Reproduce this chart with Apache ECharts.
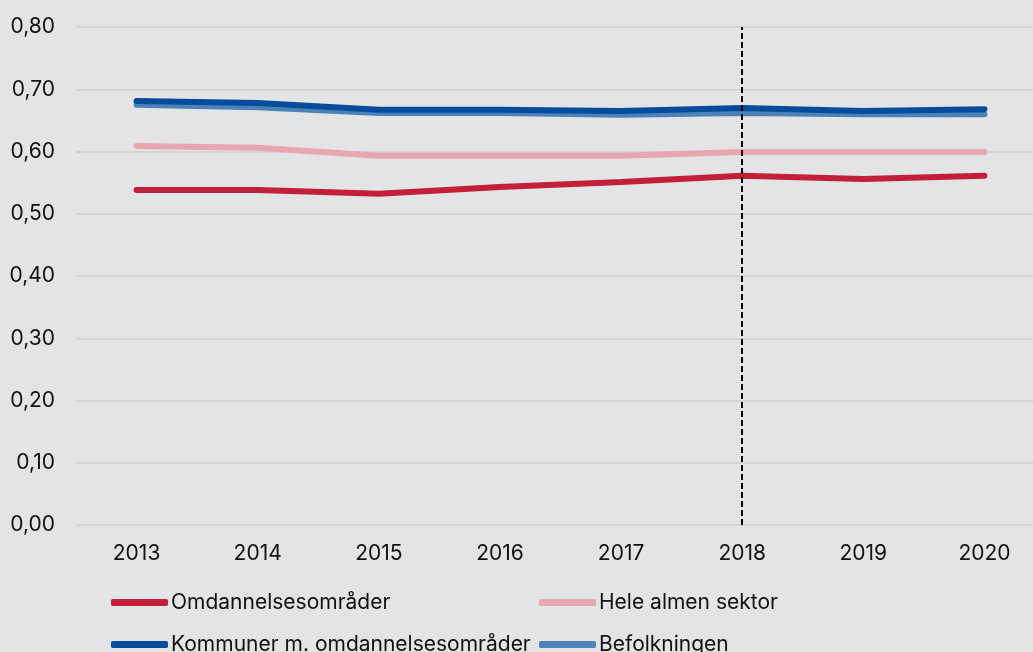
<!DOCTYPE html>
<html>
<head>
<meta charset="utf-8">
<script src="https://cdn.jsdelivr.net/npm/echarts@6/dist/echarts.min.js"></script>
<style>
  html, body { margin: 0; padding: 0; background: #e3e4e6; }
  #main-chart { width: 1033px; height: 652px; }
</style>
</head>
<body>
<div id="main-chart"></div>
<script>
// data
const years = ['2013', '2014', '2015', '2016', '2017', '2018', '2019', '2020'];
const omdannelse = [0.538, 0.538, 0.532, 0.543, 0.551, 0.561, 0.556, 0.561];
const heleAlmen = [0.609, 0.606, 0.593, 0.593, 0.593, 0.599, 0.599, 0.599];
const kommuner = [0.681, 0.678, 0.667, 0.667, 0.665, 0.670, 0.665, 0.668];
const befolkning = [0.675, 0.671, 0.662, 0.662, 0.659, 0.662, 0.660, 0.660];
const markYear = '2018';

const FONT = 'Inter, "Noto Sans", sans-serif';

function lineSeries(name, data, color) {
    return {
        name: name,
        type: 'line',
        data: data,
        showSymbol: false,
        symbol: 'none',
        lineStyle: { color: color, width: 6, cap: 'round' },
        itemStyle: { color: color },
        z: 3
    };
}

const chart = echarts.init(document.getElementById('main-chart'));
const series = [
    lineSeries('Omdannelsesområder', omdannelse, '#c41f38'),
    lineSeries('Hele almen sektor', heleAlmen, '#e8a6ae'),
    lineSeries('Befolkningen', befolkning, '#4b82b7'),
    lineSeries('Kommuner m. omdannelsesområder', kommuner, '#074c9b')
];
// vertical dashed marker at 2018
series[0].markLine = {
    silent: true,
    symbol: 'none',
    label: { show: false },
    lineStyle: { color: '#000', type: [6, 3], width: 2 },
    data: [[{ xAxis: markYear, yAxis: 0 }, { xAxis: markYear, yAxis: 0.8 }]]
};

// one legend per item so the 2x2 grid lines up like the reference
function legendItem(name, left, top) {
    return {
        left: left,
        top: top,
        padding: 0,
        itemWidth: 57,
        itemHeight: 7,
        icon: 'roundRect',
        data: [name],
        textStyle: { fontFamily: FONT, fontSize: 21, color: '#111', padding: [0, 0, 0, -2] }
    };
}

chart.setOption({
    backgroundColor: '#e3e4e6',
    animation: false,
    grid: { left: 76, right: -12, top: 27, bottom: 127, containLabel: false, outerBoundsMode: 'none' },
    legend: [
        legendItem('Omdannelsesområder', 111, 592),
        legendItem('Kommuner m. omdannelsesområder', 111, 634),
        legendItem('Hele almen sektor', 539, 592),
        legendItem('Befolkningen', 539, 634)
    ],
    xAxis: {
        type: 'category',
        data: years,
        boundaryGap: true,
        axisLine: { show: false },
        axisTick: { show: false },
        axisLabel: { color: '#111', fontFamily: FONT, fontSize: 21, margin: 18 }
    },
    yAxis: {
        type: 'value',
        min: 0,
        max: 0.8,
        interval: 0.1,
        axisLine: { show: false },
        axisTick: { show: false },
        splitLine: { lineStyle: { color: '#d3d4d6', width: 2 } },
        axisLabel: {
            color: '#111',
            fontFamily: FONT,
            fontSize: 21,
            margin: 21,
            formatter: v => v.toFixed(2).replace('.', ',')
        }
    },
    series: series
});
</script>
</body>
</html>
